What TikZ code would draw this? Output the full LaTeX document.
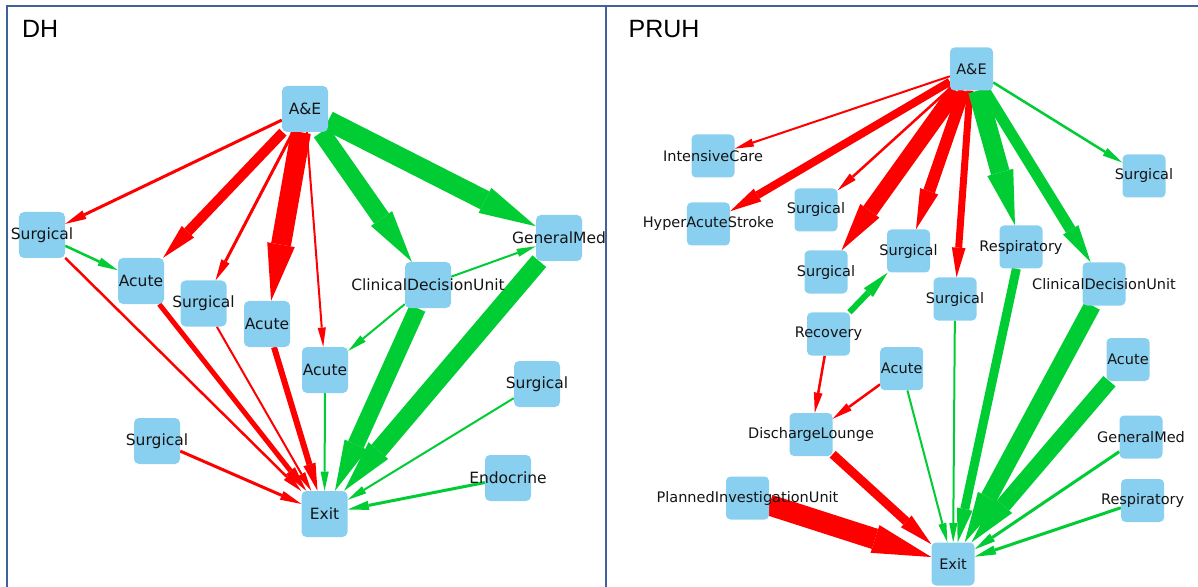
\documentclass[tikz,border=0pt]{standalone}
\usepackage{fontspec}
\newfontfamily\dejavu{DejaVu Sans}
\newfontfamily\liber{Liberation Sans}
\usetikzlibrary{arrows.meta,backgrounds}
\definecolor{nodeblue}{RGB}{137,207,240}
\definecolor{ered}{RGB}{255,0,0}
\definecolor{egreen}{RGB}{0,204,51}
\definecolor{framec}{RGB}{64,96,160}
\definecolor{labtext}{RGB}{20,20,20}
\newcommand\wardL[3]{\node[boxL] (#1) at (#2) {}; \node[labL] (#1t) at (#1.center) {#3};}
\newcommand\wardR[3]{\node[boxR] (#1) at (#2) {}; \node[labR] (#1t) at (#1.center) {#3};}
\begin{document}
\begin{tikzpicture}[x=1bp,y=-1bp,
  boxL/.style={rectangle, rounded corners=5bp, fill=nodeblue, minimum width=46bp, minimum height=46bp, inner sep=0pt},
  boxR/.style={boxL, minimum width=43bp, minimum height=43bp, rounded corners=4.5bp},
  labL/.style={font=\dejavu\fontsize{15.5bp}{18bp}\selectfont, text=labtext, inner sep=0pt},
  labR/.style={font=\dejavu\fontsize{14.5bp}{17bp}\selectfont, text=labtext, inner sep=0pt},
  title/.style={font=\liber\fontsize{25bp}{30bp}\selectfont, anchor=base west, inner sep=0pt, text=black},
  frame/.style={draw=framec, line width=1.5bp},
  tipped/.code={%
    \pgfmathsetmacro\tipl{15+2.1*#1}%
    \pgfmathsetmacro\tipw{6+1.1*#1}%
    \tikzset{line width=#1bp, -{Triangle[length=\tipl bp, width=\tipw bp, line width=0pt]}}%
  },
  redge/.style={draw=ered, tipped=#1},
  gedge/.style={draw=egreen, tipped=#1}]
\useasboundingbox (0,0) rectangle (1198,587);
% frame
\draw[frame] (7,587) -- (7,6) -- (1198,6);
\draw[draw=framec, line width=1.2bp] (606,6) -- (606,587);
% titles
\node[title] (dh) at (22,38) {DH};
\node[title] (pruh) at (628.5,38) {PRUH};
% DH nodes
\wardL{ae}{305,109}{A\&E}
\wardL{sl}{42,235}{Surgical}
\wardL{ac1}{141,281}{Acute}
\wardL{s2}{203.5,303.5}{Surgical}
\wardL{ac3}{267,324}{Acute}
\wardL{ac4}{325,370}{Acute}
\wardL{cdu}{428,285}{ClinicalDecisionUnit}
\wardL{gm}{559,238}{GeneralMed}
\wardL{sr}{537,384}{Surgical}
\wardL{sll}{157,441}{Surgical}
\wardL{endo}{508,478}{Endocrine}
\wardL{ex}{324.5,514}{Exit}
% PRUH nodes
\wardR{pae}{971.5,69}{A\&E}
\wardR{pic}{713,156}{IntensiveCare}
\wardR{phas}{708.4,224}{HyperAcuteStroke}
\wardR{psa}{816,210}{Surgical}
\wardR{psr}{1144,176}{Surgical}
\wardR{psb}{826,272}{Surgical}
\wardR{psc}{908.5,251}{Surgical}
\wardR{presp}{1021,247}{Respiratory}
\wardR{pcdu}{1104,284}{ClinicalDecisionUnit}
\wardR{psd}{955,299}{Surgical}
\wardR{prec}{828.5,334}{Recovery}
\wardR{pac}{901.7,368.7}{Acute}
\wardR{pacr}{1128,359.5}{Acute}
\wardR{pdl}{811,434.5}{DischargeLounge}
\wardR{pgm}{1141,437}{GeneralMed}
\wardR{ppiu}{747.5,498}{PlannedInvestigationUnit}
\wardR{presp2}{1142.6,500.5}{Respiratory}
\wardR{pex}{953,564}{Exit}
\begin{scope}[on background layer]
% DH edges
\draw[redge=3] (ae) -- (sl);
\draw[redge=10] (ae) -- (ac1);
\draw[redge=3] (ae) -- (s2);
\draw[redge=20] (ae) -- (ac3);
\draw[redge=2] (ae) -- (ac4);
\draw[gedge=18] (ae) -- (cdu);
\draw[gedge=20] (ae) -- (gm);
\draw[gedge=2.5] (sl) -- (ac1);
\draw[redge=2.5] (sl) -- (ex);
\draw[redge=5] (ac1) -- (ex);
\draw[redge=2] (s2) -- (ex);
\draw[redge=6] (ac3) -- (ex);
\draw[gedge=2] (cdu) -- (ac4);
\draw[gedge=2] (cdu) -- (gm);
\draw[gedge=17] (cdu) -- (ex);
\draw[gedge=18] (gm) -- (ex);
\draw[gedge=2] (ac4) -- (ex);
\draw[gedge=2] (sr) -- (ex);
\draw[gedge=3] (endo) -- (ex);
\draw[redge=3] (sll) -- (ex);
% PRUH edges
\draw[redge=2] (pae) -- (pic);
\draw[redge=8] (pae) -- (phas);
\draw[redge=2.5] (pae) -- (psa);
\draw[redge=16] (pae) -- (psb);
\draw[redge=12] (pae) -- (psc);
\draw[redge=7] (pae) -- (psd);
\draw[gedge=19] (pae) -- (presp);
\draw[gedge=11] (pae) -- (pcdu);
\draw[gedge=2.5] (pae) -- (psr);
\draw[gedge=6] (prec) -- (psc);
\draw[redge=2.5] (prec) -- (pdl);
\draw[redge=2.5] (pac) -- (pdl);
\draw[redge=9] (pdl) -- (pex);
\draw[redge=21] (ppiu) -- (pex);
\draw[gedge=2] (pac) -- (pex);
\draw[gedge=2] (psd) -- (pex);
\draw[gedge=9] (presp) -- (pex);
\draw[gedge=17] (pcdu) -- (pex);
\draw[gedge=16] (pacr) -- (pex);
\draw[gedge=3] (pgm) -- (pex);
\draw[gedge=3] (presp2) -- (pex);
\end{scope}
\end{tikzpicture}
\end{document}
